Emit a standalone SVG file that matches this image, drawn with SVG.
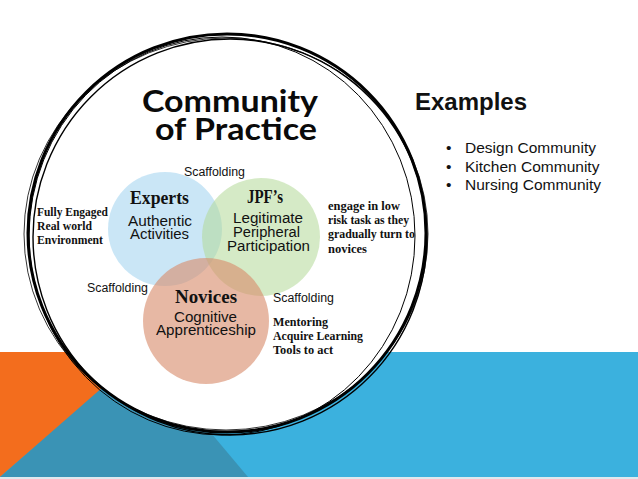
<svg xmlns="http://www.w3.org/2000/svg" width="638" height="479" viewBox="0 0 638 479">
<style>
.sans{font-family:"Liberation Sans","Open Sans",sans-serif;fill:#111}
.title{font-family:"Lato","Open Sans",sans-serif;font-weight:bold;fill:#0a0a0a}
.serif{font-family:"Liberation Serif","DejaVu Serif",serif;font-weight:bold;fill:#111}
.arial{font-family:"Liberation Sans",Arial,sans-serif;fill:#111}
.ring{fill:none;stroke:#000}
</style>
<rect x="0" y="0" width="638" height="479" fill="#ffffff"/>
<g id="background">
<rect x="0" y="352" width="638" height="125" fill="#3bb1de"/>
<polygon points="0,352 145,352 0,477" fill="#f36d1d"/>
<polygon points="143,352 248,477 0,477" fill="#3a93b5"/>
<rect x="0" y="477" width="638" height="2" fill="#dfe9ee"/>
</g>
<g id="frame">
<ellipse cx="227" cy="233" rx="199" ry="199" fill="#ffffff"/>
<ellipse class="ring" cx="227" cy="233" rx="199" ry="199" stroke-width="3"/>
<ellipse class="ring" cx="222" cy="236" rx="193" ry="199" stroke-width="1"/>
<ellipse class="ring" cx="230" cy="237" rx="197" ry="198" stroke-width="1.4"/>
<ellipse class="ring" cx="226" cy="234" rx="202" ry="196" stroke-width="0.8"/>
</g>
<g id="title">
<text class="title" font-size="30" x="142" y="112" textLength="176" lengthAdjust="spacingAndGlyphs">Community</text>
<text class="title" font-size="30" x="155" y="140" textLength="162" lengthAdjust="spacingAndGlyphs">of Practice</text>
</g>
<g id="experts">
<circle cx="165" cy="229" r="57" fill="#9fd2ef" fill-opacity="0.55"/>
<text class="serif" font-size="18" x="130" y="204" textLength="59" lengthAdjust="spacingAndGlyphs">Experts</text>
<text class="sans" font-size="14" x="128" y="226" textLength="64" lengthAdjust="spacingAndGlyphs">Authentic</text>
<text class="sans" font-size="14" x="130" y="239" textLength="59" lengthAdjust="spacingAndGlyphs">Activities</text>
</g>
<g id="jpfs">
<circle cx="261" cy="237" r="59" fill="#b3d897" fill-opacity="0.55"/>
<text class="serif" font-size="18" x="247" y="203" textLength="36" lengthAdjust="spacingAndGlyphs">JPF’s</text>
<text class="sans" font-size="14" x="233" y="223" textLength="70" lengthAdjust="spacingAndGlyphs">Legitimate</text>
<text class="sans" font-size="14" x="233" y="237" textLength="67" lengthAdjust="spacingAndGlyphs">Peripheral</text>
<text class="sans" font-size="14" x="227" y="251" textLength="83" lengthAdjust="spacingAndGlyphs">Participation</text>
</g>
<g id="novices">
<circle cx="206" cy="321" r="63" fill="#d98d6c" fill-opacity="0.62"/>
<text class="serif" font-size="18" x="175" y="303" textLength="62" lengthAdjust="spacingAndGlyphs">Novices</text>
<text class="sans" font-size="14" x="174" y="322" textLength="63" lengthAdjust="spacingAndGlyphs">Cognitive</text>
<text class="sans" font-size="14" x="156" y="335" textLength="100" lengthAdjust="spacingAndGlyphs">Apprenticeship</text>
</g>
<g id="labels">
<text class="arial" font-size="12" x="184" y="176" textLength="61" lengthAdjust="spacingAndGlyphs">Scaffolding</text>
<text class="arial" font-size="12" x="87" y="292" textLength="61" lengthAdjust="spacingAndGlyphs">Scaffolding</text>
<text class="arial" font-size="12" x="273" y="302" textLength="61" lengthAdjust="spacingAndGlyphs">Scaffolding</text>
<text class="serif" font-size="12.5" x="37" y="216" textLength="71" lengthAdjust="spacingAndGlyphs">Fully Engaged</text>
<text class="serif" font-size="12.5" x="37" y="230" textLength="55" lengthAdjust="spacingAndGlyphs">Real world</text>
<text class="serif" font-size="12.5" x="37" y="244" textLength="66" lengthAdjust="spacingAndGlyphs">Environment</text>
<text class="serif" font-size="12.5" x="328" y="210" textLength="72" lengthAdjust="spacingAndGlyphs">engage in low</text>
<text class="serif" font-size="12.5" x="328" y="224" textLength="81" lengthAdjust="spacingAndGlyphs">risk task as they</text>
<text class="serif" font-size="12.5" x="328" y="238" textLength="87" lengthAdjust="spacingAndGlyphs">gradually turn to</text>
<text class="serif" font-size="12.5" x="328" y="253" textLength="39" lengthAdjust="spacingAndGlyphs">novices</text>
<text class="serif" font-size="12.5" x="273" y="326" textLength="55" lengthAdjust="spacingAndGlyphs">Mentoring</text>
<text class="serif" font-size="12.5" x="273" y="340" textLength="90" lengthAdjust="spacingAndGlyphs">Acquire Learning</text>
<text class="serif" font-size="12.5" x="273" y="354" textLength="60" lengthAdjust="spacingAndGlyphs">Tools to act</text>
</g>
<g id="examples">
<text class="arial" font-weight="bold" font-size="24" x="415" y="110">Examples</text>
<text class="arial" font-size="15.5" x="446" y="153">•</text>
<text class="arial" font-size="15.5" x="465" y="153">Design Community</text>
<text class="arial" font-size="15.5" x="446" y="172">•</text>
<text class="arial" font-size="15.5" x="465" y="172">Kitchen Community</text>
<text class="arial" font-size="15.5" x="446" y="190">•</text>
<text class="arial" font-size="15.5" x="465" y="190">Nursing Community</text>
</g>
</svg>
